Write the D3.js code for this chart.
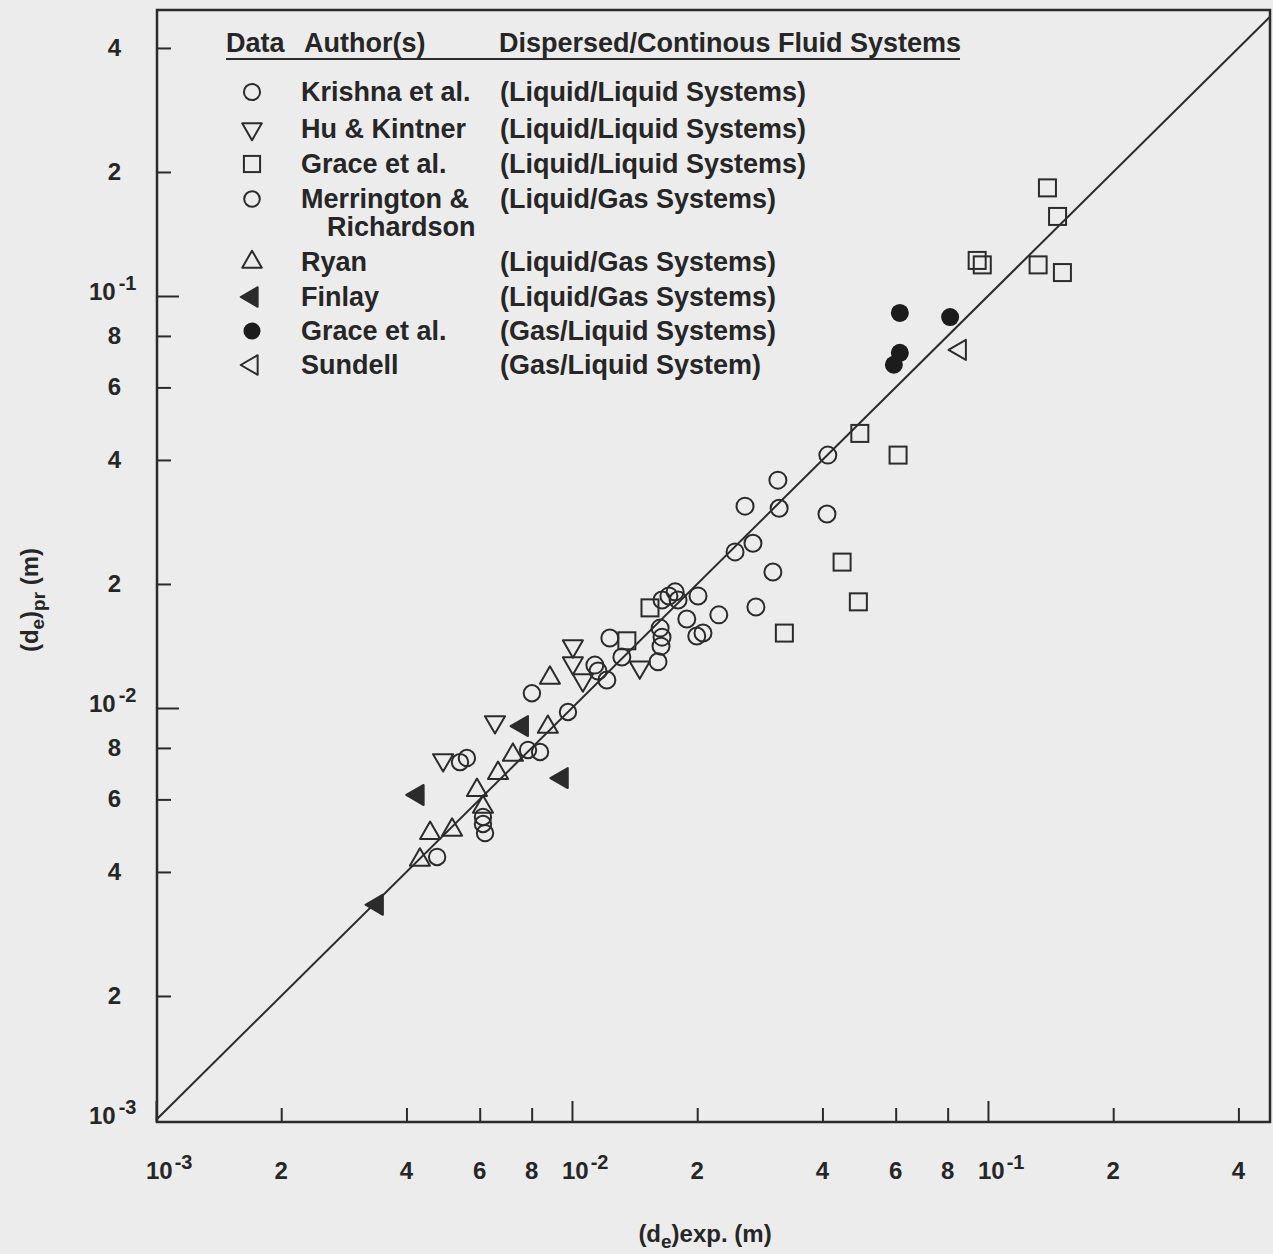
<!DOCTYPE html>
<html>
<head>
<meta charset="utf-8">
<script src="https://cdn.jsdelivr.net/npm/d3@7"></script>
<style>
body { margin: 0; background: #ececec; }
svg { display: block; }
text { font-family: "Liberation Sans", Arial, Helvetica, sans-serif; fill: #262626; }
.tick-label { font-size: 24px; font-weight: bold; }
.legend { font-size: 27px; font-weight: bold; }
.title { font-size: 24px; font-weight: bold; }
</style>
</head>
<body>
<svg id="fig" width="1273" height="1254"></svg>
<script>
// values: [d_e exp, d_e predicted] in metres
const krishna = [[0.01135,0.01271],[0.01155,0.0123],[0.01213,0.01169],[0.01233,0.01479],[0.01318,0.0133],
  [0.0161,0.01295],[0.01629,0.01563],[0.01646,0.01486],[0.01637,0.01413],[0.01646,0.01828],[0.0171,0.01871],
  [0.0177,0.01914],[0.01799,0.01828],[0.01888,0.01644],[0.02009,0.01871],[0.01995,0.01496],[0.02065,0.01521],
  [0.02254,0.01683],[0.02466,0.02393],[0.02723,0.02512],[0.02606,0.0309],[0.03126,0.03573],[0.03148,0.03055],
  [0.03041,0.02138],[0.02768,0.01758],[0.04121,0.0411],[0.04102,0.02958]]
const huKintner = [[0.0049,0.00748],[0.00653,0.00925],[0.01005,0.01413],[0.01005,0.01285],[0.01062,0.01169],[0.01455,0.01256]]
const graceLL = [[0.139,0.183],[0.147,0.156],[0.0942,0.122],[0.0969,0.119],[0.132,0.119],[0.151,0.114],
  [0.0492,0.0464],[0.0608,0.0411],[0.0446,0.0226],[0.0488,0.0181],[0.0324,0.0152],[0.0154,0.0175],[0.01355,0.01456]]
const merrington = [[0.00474,0.00435],[0.00538,0.00739],[0.00559,0.00756],[0.00611,0.00544],[0.00611,0.00523],
  [0.00618,0.00497],[0.00784,0.00791],[0.00838,0.00782],[0.00801,0.01086],[0.00978,0.00978]]
const ryan = [[0.00431,0.00428],[0.00456,0.00497],[0.00515,0.00506],[0.00591,0.00632],[0.00611,0.00575],
  [0.00664,0.00695],[0.00721,0.00769],[0.00875,0.00899],[0.00885,0.01183]]
const finlay = [[0.0034,0.00333],[0.00426,0.00615],[0.00759,0.00904],[0.00946,0.00676]]
const graceGL = [[0.0614,0.091],[0.0811,0.0889],[0.0614,0.0728],[0.0594,0.0681]]
const sundell = [[0.0857,0.074]]

const tickValues = [1e-3,2e-3,4e-3,6e-3,8e-3,1e-2,2e-2,4e-2,6e-2,8e-2,1e-1,2e-1,4e-1]

const legendAuthors = ["Krishna et al.","Hu & Kintner","Grace et al.","Merrington &","Ryan","Finlay","Grace et al.","Sundell"]
const legendSystems = ["(Liquid/Liquid Systems)","(Liquid/Liquid Systems)","(Liquid/Liquid Systems)","(Liquid/Gas Systems)",
  "(Liquid/Gas Systems)","(Liquid/Gas Systems)","(Gas/Liquid Systems)","(Gas/Liquid System)"]

const series = [
  {data: krishna, mark: "circle"},
  {data: huKintner, mark: "down"},
  {data: graceLL, mark: "square"},
  {data: merrington, mark: "circle2"},
  {data: ryan, mark: "up"},
  {data: finlay, mark: "leftFilled"},
  {data: graceGL, mark: "dot"},
  {data: sundell, mark: "left"}
]

const ink = "#2b2b2b"
const Fig = d3.select("#fig")

const xScale = d3.scaleLog().domain([1e-3, Math.pow(10, -0.322)]).range([156, 1270])
const yScale = d3.scaleLog().domain([1e-3, Math.pow(10, -0.3058)]).range([1120, 10])

// marker shapes
function marker(sel, mark, scale = 1) {
  const tri = d3.symbol().type(d3.symbolTriangle).size(175 * scale)()
  if (mark === "circle" || mark === "circle2") {
    sel.append("circle").attr("r", (mark === "circle" ? 8.5 : 8.2) * scale)
      .attr("fill", "none").attr("stroke", ink).attr("stroke-width", 2)
  } else if (mark === "square") {
    const s = 17 * scale
    sel.append("rect").attr("x", -s/2).attr("y", -s/2).attr("width", s).attr("height", s)
      .attr("fill", "none").attr("stroke", ink).attr("stroke-width", 2)
  } else if (mark === "up" || mark === "down" || mark === "left" || mark === "leftFilled") {
    const rot = {up: 0, down: 180, left: -90, leftFilled: -90}[mark]
    sel.append("path").attr("d", tri).attr("transform", `rotate(${rot})`)
      .attr("fill", mark === "leftFilled" ? ink : "none")
      .attr("stroke", ink).attr("stroke-width", 2).attr("stroke-linejoin", "round")
  } else if (mark === "dot") {
    sel.append("circle").attr("r", 9 * scale).attr("fill", "#1c1c1c")
  }
}

// frame
const [x0, x1] = xScale.range()
const [y0, y1] = yScale.range()
Fig.append("rect").attr("x", x0 + 1).attr("y", y1).attr("width", x1 - x0 - 1).attr("height", y0 - y1 + 2)
  .attr("fill", "none").attr("stroke", ink).attr("stroke-width", 2.5)

// y = x line
const lineEnd = xScale.domain()[1]
Fig.append("line")
  .attr("x1", xScale(1e-3)).attr("y1", yScale(1e-3))
  .attr("x2", xScale(lineEnd)).attr("y2", yScale(lineEnd))
  .attr("stroke", ink).attr("stroke-width", 2)

const isDecade = v => Math.abs(Math.log10(v) - Math.round(Math.log10(v))) < 1e-9
const firstDigit = v => Math.round(v / Math.pow(10, Math.floor(Math.log10(v) + 1e-9)))

// X axis ticks (inward)
const xAxis = d3.axisBottom(xScale).tickValues(tickValues).tickFormat("").tickSizeOuter(0)
  .tickSize(-14)
const gx = Fig.append("g").attr("transform", `translate(0,${y0 + 2})`).call(xAxis)
gx.select(".domain").remove()
gx.selectAll(".tick line").attr("stroke", ink).attr("stroke-width", 2)
  .attr("y2", d => isDecade(d) ? -21 : -14)

// Y axis ticks (inward)
const yAxis = d3.axisLeft(yScale).tickValues(tickValues.filter(d => d > 1e-3)).tickFormat("").tickSizeOuter(0)
  .tickSize(-14)
const gy = Fig.append("g").attr("transform", `translate(${x0 + 1},0)`).call(yAxis)
gy.select(".domain").remove()
gy.selectAll(".tick line").attr("stroke", ink).attr("stroke-width", 2)
  .attr("x2", d => isDecade(d) ? 22 : 14)

// tick labels
tickValues.forEach(v => {
  const xt = Fig.append("text").attr("class", "tick-label").attr("y", 1179)
  if (isDecade(v)) {
    xt.attr("x", xScale(v) - 10).attr("text-anchor", "start").text("10")
      .append("tspan").attr("dx", 2).attr("dy", -10).attr("font-size", 20).text(Math.round(Math.log10(v)))
  } else {
    xt.attr("x", xScale(v)).attr("text-anchor", "middle").text(firstDigit(v))
  }
  const yt = Fig.append("text").attr("class", "tick-label").attr("y", yScale(v) + 8)
  if (isDecade(v)) {
    yt.attr("x", 89).attr("text-anchor", "start").attr("y", yScale(v) + 4).text("10")
      .append("tspan").attr("dx", 3).attr("dy", -10).attr("font-size", 20).text(Math.round(Math.log10(v)))
  } else {
    yt.attr("x", 121).attr("text-anchor", "end").text(firstDigit(v))
  }
})

// axis titles
const xt = Fig.append("text").attr("class", "title").attr("x", 705).attr("y", 1242).attr("text-anchor", "middle")
xt.append("tspan").text("(d")
xt.append("tspan").attr("dy", 6).attr("font-size", 19).text("e")
xt.append("tspan").attr("dy", -6).text(")exp. (m)")

const yt = Fig.append("text").attr("class", "title").attr("text-anchor", "middle")
  .attr("transform", "translate(38,600) rotate(-90)")
yt.append("tspan").text("(d")
yt.append("tspan").attr("dy", 6).attr("font-size", 19).text("e")
yt.append("tspan").attr("dy", -6).text(")")
yt.append("tspan").attr("dy", 7).attr("font-size", 19).text("pr")
yt.append("tspan").attr("dy", -7).text(" (m)")

// data points
series.forEach(s => {
  Fig.append("g").selectAll(".markers")
    .data(s.data)
    .join("g")
    .attr("class", "markers")
    .attr("transform", d => `translate(${xScale(d[0])},${yScale(d[1])})`)
    .each(function() { marker(d3.select(this), s.mark) })
})

// legend
const legend = Fig.append("g")
legend.append("text").attr("class", "legend").attr("x", 226).attr("y", 52).text("Data")
legend.append("text").attr("class", "legend").attr("x", 304).attr("y", 52).text("Author(s)")
legend.append("text").attr("class", "legend").attr("x", 499).attr("y", 52).text("Dispersed/Continous Fluid Systems")
legend.append("line").attr("x1", 226).attr("x2", 960).attr("y1", 59).attr("y2", 59)
  .attr("stroke", ink).attr("stroke-width", 2)

const rowY = [92, 129, 164, 199, 262, 297, 331, 365]
const rows = legend.selectAll(".row").data(series).join("g")
  .attr("transform", (d, i) => `translate(0,${rowY[i]})`)
rows.append("g").attr("transform", "translate(252,0)").each(function(d) { marker(d3.select(this), d.mark, 0.95) })
rows.append("text").attr("class", "legend").attr("x", 301).attr("y", 9).text((d, i) => legendAuthors[i])
rows.append("text").attr("class", "legend").attr("x", 500).attr("y", 9).text((d, i) => legendSystems[i])
legend.append("text").attr("class", "legend").attr("x", 327).attr("y", 236).text("Richardson")
</script>
</body>
</html>
